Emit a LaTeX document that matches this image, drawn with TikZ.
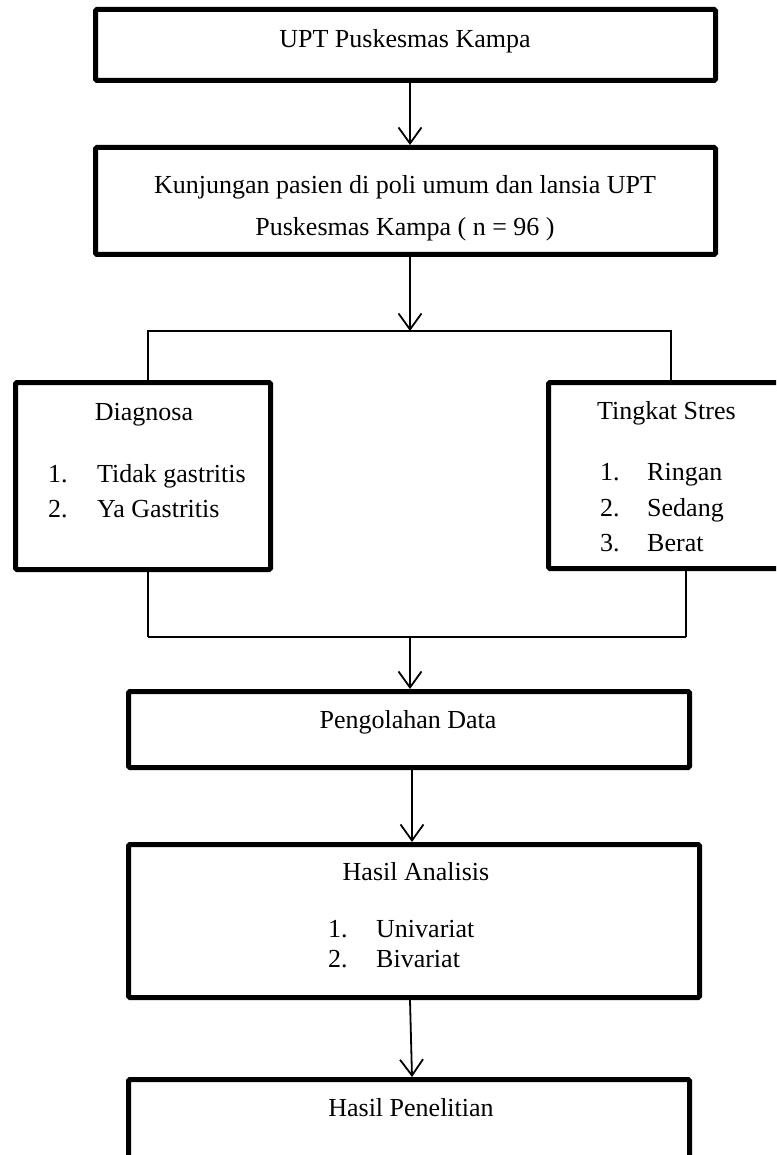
\documentclass[tikz,border=0pt]{standalone}
\usepackage{fontspec}
\setmainfont{Liberation Serif}
\usetikzlibrary{arrows.meta}
\begin{document}
\begin{tikzpicture}[x=1pt,y=-1pt,
  box/.style={draw,line width=5pt,rounded corners=1.5pt,inner sep=0pt,anchor=center},
  txt/.style={font=\fontsize{26}{30}\selectfont,inner sep=0pt,anchor=base},
  txtl/.style={font=\fontsize{26}{30}\selectfont,inner sep=0pt,anchor=base west},
  conn/.style={line width=1.8pt},
  arr/.style={line width=1.8pt,-{Straight Barb[length=16pt,width=23pt,line width=1.8pt]}}]
\useasboundingbox (0,0) rectangle (776,1155);
\clip (0,0) rectangle (776,1155);
% boxes
\node[box,minimum width=620pt,minimum height=71pt] (b1) at (405.5,45) {};
\node[box,minimum width=620pt,minimum height=107pt] (b2) at (405.5,201) {};
\node[box,minimum width=255pt,minimum height=187pt] (b3) at (143,476) {};
\node[box,minimum width=252pt,minimum height=186pt] (b4) at (674.5,475.5) {};
\node[box,minimum width=561pt,minimum height=76pt] (b5) at (409,729.5) {};
\node[box,minimum width=571pt,minimum height=153pt] (b6) at (414,921) {};
\node[box,minimum width=561pt,minimum height=141pt] (b7) at (409,1150) {};
% texts
\node[txt] (t1) at (405,48) {UPT Puskesmas Kampa};
\node[txt] (t2a) at (405,193.5) {Kunjungan pasien di poli umum dan lansia UPT};
\node[txt] (t2b) at (405,235.5) {Puskesmas Kampa ( n = 96 )};
\node[txt] (t3) at (144,420) {Diagnosa};
\node[txtl] (t3n1) at (48,482) {1.};
\node[txtl] (t3i1) at (97,482) {Tidak gastritis};
\node[txtl] (t3n2) at (48,517) {2.};
\node[txtl] (t3i2) at (97,517) {Ya Gastritis};
\node[txtl] (t4) at (597,419) {Tingkat Stres};
\node[txtl] (t4n1) at (600,480) {1.};
\node[txtl] (t4i1) at (647,480) {Ringan};
\node[txtl] (t4n2) at (600,516) {2.};
\node[txtl] (t4i2) at (647,516) {Sedang};
\node[txtl] (t4n3) at (600,551) {3.};
\node[txtl] (t4i3) at (647,551) {Berat};
\node[txt] (t5) at (408,728) {Pengolahan Data};
\node[txt] (t6) at (416,880) {Hasil Analisis};
\node[txtl] (t6n1) at (328,937) {1.};
\node[txtl] (t6i1) at (376,937) {Univariat};
\node[txtl] (t6n2) at (328,967) {2.};
\node[txtl] (t6i2) at (376,967) {Bivariat};
\node[txt] (t7) at (411,1116) {Hasil Penelitian};
% helper coordinates
\coordinate (ax) at (410,0);
\coordinate (ax2) at (412,0);
\coordinate (sl) at (148,331);
\coordinate (sr) at (671,331);
\coordinate (jl) at (148,637);
\coordinate (jr) at (686,637);
\coordinate (jm) at (410,637);
\coordinate (sm) at (410,331);
% connectors
\draw[arr] (b1.south -| ax) -- (b2.north -| ax);
\draw[arr] (b2.south -| ax) -- (sm);
\draw[conn] (b3.north -| sl) -- (sl) -- (sr) -- (b4.north -| sr);
\draw[conn] (b3.south -| jl) -- (jl);
\draw[conn] (b4.south -| jr) -- (jr);
\draw[line width=2.6pt] (jl) -- (jr);
\draw[arr] (jm) -- (b5.north -| ax);
\draw[arr] (b5.south -| ax2) -- (b6.north -| ax2);
\draw[arr] (b6.south -| ax) -- (b7.north -| ax2);
\end{tikzpicture}
\end{document}
